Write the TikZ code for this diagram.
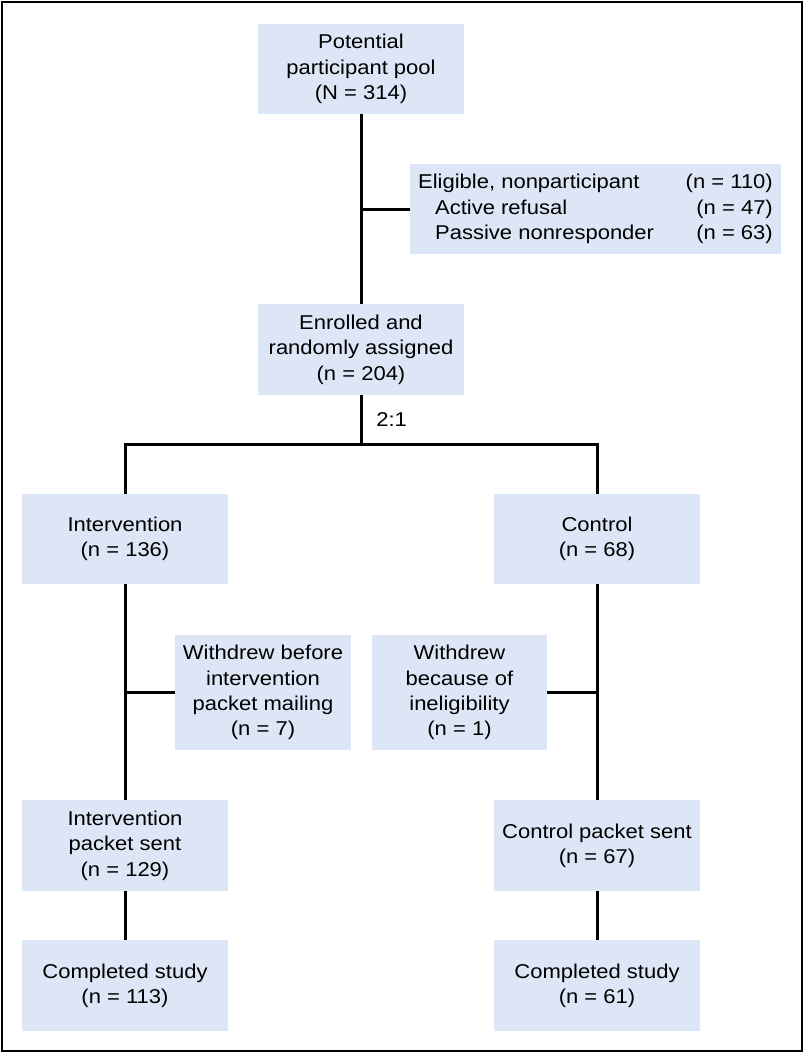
\documentclass[tikz,border=0pt]{standalone}
\usepackage{fontspec}
\setmainfont[FakeStretch=1.1]{Liberation Sans}
\definecolor{boxblue}{HTML}{DCE6F6}
\begin{document}
\begin{tikzpicture}[x=0.75pt,y=-0.75pt,
  box/.style={fill=boxblue, inner sep=0pt, align=center,
    font=\fontsize{15}{19}\selectfont},
  conn/.style={line width=2.25pt}]
\useasboundingbox (0,0) rectangle (805,1053);
\draw[line width=1.6pt] (2,2) rectangle (802,1051);
\node[box, minimum width=206*0.75pt, minimum height=90*0.75pt] (pool) at (361,69)
  {Potential\\participant pool\\(N = 314)};
\node[box, minimum width=371*0.75pt, minimum height=90*0.75pt] (elig) at (595.5,209)
  {\begin{tabular*}{266pt}{@{}l@{\extracolsep{\fill}}r@{}}
   Eligible, nonparticipant & (n = 110)\\
   \hspace{12.75pt}Active refusal & (n = 47)\\
   \hspace{12.75pt}Passive nonresponder & (n = 63)
   \end{tabular*}};
\node[box, minimum width=206*0.75pt, minimum height=91*0.75pt] (enr) at (361,349.5)
  {Enrolled and\\randomly assigned\\(n = 204)};
\node[box, minimum width=206*0.75pt, minimum height=90*0.75pt] (int) at (125,539)
  {Intervention\\(n = 136)};
\node[box, minimum width=206*0.75pt, minimum height=90*0.75pt] (ctl) at (597,539)
  {Control\\(n = 68)};
\node[box, minimum width=176*0.75pt, minimum height=115*0.75pt] (wl) at (263,692.5)
  {Withdrew before\\intervention\\packet mailing\\(n = 7)};
\node[box, minimum width=175*0.75pt, minimum height=115*0.75pt] (wr) at (459.5,692.5)
  {Withdrew\\because of\\ineligibility\\(n = 1)};
\node[box, minimum width=206*0.75pt, minimum height=91*0.75pt] (ips) at (125,845.5)
  {Intervention\\packet sent\\(n = 129)};
\node[box, minimum width=206*0.75pt, minimum height=91*0.75pt] (cps) at (597,845.5)
  {Control packet sent\\(n = 67)};
\node[box, minimum width=206*0.75pt, minimum height=91*0.75pt] (ic) at (125,985.5)
  {Completed study\\(n = 113)};
\node[box, minimum width=206*0.75pt, minimum height=91*0.75pt] (cc) at (597,985.5)
  {Completed study\\(n = 61)};
\coordinate (split) at (361,444);
\node[anchor=west, inner sep=0pt, font=\fontsize{15}{19}\selectfont] (ratio) at (376,420) {2:1};
\draw[conn] (pool.south) -- (enr.north);
\draw[conn] (elig.west) -- (elig.west -| pool.south);
\draw[conn] (enr.south) -- (split);
\draw[conn] (int.north) |- (split) -| (ctl.north);
\draw[conn] (int.south) -- (ips.north);
\draw[conn] (wl.west) -- (wl.west -| int.south);
\draw[conn] (ctl.south) -- (cps.north);
\draw[conn] (wr.east) -- (wr.east -| ctl.south);
\draw[conn] (ips.south) -- (ic.north);
\draw[conn] (cps.south) -- (cc.north);
\end{tikzpicture}
\end{document}
